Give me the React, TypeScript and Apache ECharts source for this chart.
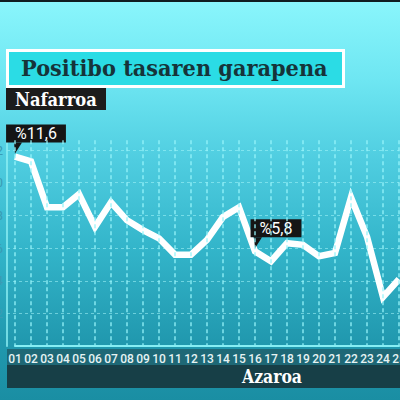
import React, { useEffect, useRef } from "react";
import * as echarts from "echarts";

const days = ["01","02","03","04","05","06","07","08","09","10","11","12","13","14","15","16","17","18","19","20","21","22","23","24","25"];
const positiveRate = [11.6, 11.3, 8.5, 8.5, 9.3, 7.3, 8.8, 7.7, 7.1, 6.6, 5.6, 5.6, 6.5, 7.9, 8.5, 5.8, 5.2, 6.3, 6.2, 5.5, 5.7, 9.1, 6.7, 3.0, 4.1];
const annotationIdx = [0, 15];
const annotationTexts = ["%11,6", "%5,8"];
const titleText = "Positibo tasaren garapena";
const regionText = "Nafarroa";
const monthText = "Azaroa";

export default function App() {
  const ref = useRef<HTMLDivElement>(null);
  useEffect(() => {
    if (!ref.current) return;
    const chart = echarts.init(ref.current, null, { renderer: "svg" });
    const vLine = "rgba(150,245,250,0.85)";
    const hLine = "rgba(165,245,250,0.55)";
    chart.setOption({
      animation: false,
      backgroundColor: "transparent",
      grid: [
        { left: 15, right: 21, top: 140.2, bottom: 53.8, containLabel: false, outerBoundsMode: "none" },
        { left: 7, right: 21, top: 150, bottom: 86.5, containLabel: false, outerBoundsMode: "none" },
      ],
      xAxis: [
        {
          type: "category",
          gridIndex: 0,
          data: days,
          boundaryGap: false,
          offset: 3,
          z: 10,
          axisLine: { show: true, lineStyle: { color: "#86eef4", width: 2 } },
          axisTick: { show: false },
          axisLabel: { color: "#e6f3f3", fontSize: 12, fontFamily: "Roboto", fontWeight: 500, margin: 4, interval: 0 },
          splitLine: { show: true, lineStyle: { color: vLine, width: 1.5, type: [4, 3] } },
        },
        { type: "category", gridIndex: 1, data: days, show: false, boundaryGap: false },
      ],
      yAxis: [
        {
          type: "value",
          gridIndex: 0,
          min: 0,
          max: 12.6,
          offset: 8,
          axisLine: { show: true, lineStyle: { color: "#8ef0f5", width: 1.5 } },
          axisTick: { show: false },
          axisLabel: { show: false },
          splitLine: { show: false },
        },
        {
          type: "value",
          gridIndex: 1,
          min: 2,
          max: 12,
          interval: 2,
          axisLine: { show: false },
          axisTick: { show: false },
          axisLabel: { show: true, color: "#3a9cb4", fontSize: 13, fontFamily: "Roboto", margin: 4 },
          splitLine: { show: true, lineStyle: { color: hLine, width: 1, type: [3, 3] } },
        },
      ],
      series: [
        {
          type: "line",
          xAxisIndex: 0,
          yAxisIndex: 0,
          data: positiveRate,
          showSymbol: false,
          symbol: "none",
          lineStyle: { color: "#ffffff", width: 6.5, join: "miter", cap: "butt" },
          z: 3,
          markPoint: {
            z: 6,
            data: annotationIdx.map((i, k) => ({
              coord: [days[i], positiveRate[i]],
              symbol: "path://M0,0 L8,0 L1,11 Z",
              symbolSize: [8, 11],
              symbolOffset: [3, -8.5],
              itemStyle: { color: "#151515" },
              label: {
                show: true,
                position: "top",
                distance: 0,
                offset: [18, 0],
                formatter: annotationTexts[k],
                color: "#ffffff",
                fontFamily: "Roboto",
                fontSize: 16,
                lineHeight: 18,
                backgroundColor: "#151515",
                padding: [0, 9, 0, 9],
              },
            })),
          },
        },
      ],
      graphic: [
        { type: "rect", z: -5, shape: { x: 0, y: 0, width: 420, height: 2 }, style: { fill: "#0f1d20" } },
        { type: "rect", z: -5, shape: { x: 7, y: 349, width: 413, height: 16 }, style: { fill: "#1e6876" } },
        { type: "rect", z: -5, shape: { x: 7, y: 365, width: 413, height: 23 }, style: { fill: "#173f47" } },
        { type: "rect", z: 20, shape: { x: 7.5, y: 50.5, width: 336, height: 36 }, style: { fill: "#2bdce5", stroke: "#ffffff", lineWidth: 3 } },
        { type: "text", z: 21, x: 21, y: 68.5, scaleX: 0.95, style: { text: titleText, fill: "#16343a", fontFamily: "DejaVu Serif", fontWeight: "bold", fontSize: 22, verticalAlign: "middle", textAlign: "left" } },
        { type: "rect", z: 20, shape: { x: 6, y: 88, width: 100, height: 22 }, style: { fill: "#1c1c1c" } },
        { type: "text", z: 21, x: 15, y: 99.5, scaleX: 0.86, style: { text: regionText, fill: "#ffffff", fontFamily: "DejaVu Serif", fontWeight: "bold", fontSize: 19, verticalAlign: "middle", textAlign: "left" } },
        { type: "text", z: 21, x: 272, y: 377, scaleX: 0.87, style: { text: monthText, fill: "#ffffff", fontFamily: "DejaVu Serif", fontWeight: "bold", fontSize: 18, verticalAlign: "middle", textAlign: "center" } },
      ],
    });
    return () => chart.dispose();
  }, []);
  return (
    <div
      style={{
        position: "fixed",
        left: 0,
        top: 0,
        width: 400,
        height: 400,
        overflow: "hidden",
        background: "linear-gradient(180deg, #8af6fc 0%, #6ee6f2 20%, #4fcde0 40%, #33b5ca 62%, #2199af 85%, #1a8ea3 100%)",
      }}
    >
      <div ref={ref} style={{ width: 420, height: 400 }} />
    </div>
  );
}
